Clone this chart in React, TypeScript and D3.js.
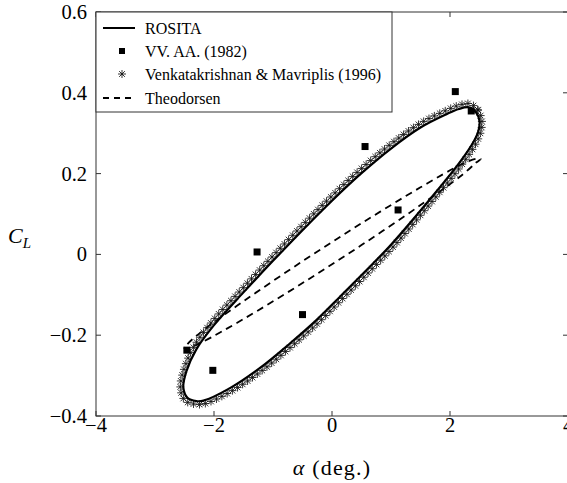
import React, { useEffect, useRef } from "react";
import * as d3 from "d3";

// ROSITA loop (alpha in deg, CL)
const rositaAlpha = [2.5, 2.44, 2.32, 2.15, 1.94, 1.5, 1.0, 0.5, 0.0, -0.5, -1.0, -1.5, -2.0, -2.3, -2.47, -2.52, -2.45, -2.3, -2.18, -1.73, -1.22, -0.71, -0.26, 0.14, 0.59, 1.0, 1.72, 2.17, 2.4, 2.48];
const rositaCL = [0.33, 0.352, 0.364, 0.36, 0.347, 0.314, 0.262, 0.201, 0.133, 0.06, -0.016, -0.094, -0.175, -0.235, -0.29, -0.33, -0.355, -0.363, -0.362, -0.331, -0.281, -0.22, -0.162, -0.104, -0.038, 0.024, 0.147, 0.229, 0.279, 0.305];

// Venkatakrishnan & Mavriplis (1996) loop
const vmAlpha = [2.54, 2.47, 2.33, 2.15, 1.93, 1.48, 0.98, 0.48, -0.02, -0.52, -1.02, -1.52, -2.03, -2.34, -2.51, -2.57, -2.49, -2.31, -2.17, -1.71, -1.2, -0.69, -0.24, 0.16, 0.61, 1.02, 1.74, 2.2, 2.44, 2.52];
const vmCL = [0.33, 0.358, 0.373, 0.369, 0.356, 0.323, 0.271, 0.21, 0.142, 0.069, -0.007, -0.085, -0.166, -0.228, -0.285, -0.33, -0.362, -0.371, -0.37, -0.339, -0.289, -0.228, -0.17, -0.112, -0.046, 0.016, 0.139, 0.222, 0.275, 0.303];

// VV. AA. (1982) experimental points
const expAlpha = [-2.46, -2.02, -1.27, -0.5, 0.56, 1.12, 2.09, 2.36];
const expCL = [-0.237, -0.287, 0.006, -0.149, 0.267, 0.11, 0.403, 0.355];

// Theodorsen loop
const theoAlpha = [-2.5, -2.45, -2.2, -1.5, -0.5, 0.5, 1.5, 2.2, 2.45, 2.52, 2.45, 2.2, 1.5, 0.5, -0.5, -1.5, -2.2, -2.45];
const theoCL = [-0.233, -0.222, -0.19, -0.116, -0.017, 0.077, 0.166, 0.223, 0.237, 0.236, 0.228, 0.196, 0.122, 0.023, -0.071, -0.16, -0.217, -0.233];

const xTicks = [-4, -2, 0, 2, 4];
const yTicks = [-0.4, -0.2, 0, 0.2, 0.4, 0.6];
const legendLabels = ["ROSITA", "VV. AA. (1982)", "Venkatakrishnan & Mavriplis (1996)", "Theodorsen"];

const W = 567;
const H = 483;
const FONT = "'Liberation Serif', 'Times New Roman', Times, serif";

export default function App() {
  const svgRef = useRef<SVGSVGElement>(null);

  useEffect(() => {
    const svg = d3.select(svgRef.current);
    svg.selectAll("*").remove();

    const x = d3.scaleLinear().domain([-4, 4]).range([96, 568]);
    const y = d3.scaleLinear().domain([-0.4, 0.6]).range([416, 12]);

    const pts = (a: number[], c: number[]) => a.map((v, i) => [v, c[i]] as [number, number]);
    const line = d3.line<[number, number]>()
      .x(d => x(d[0]))
      .y(d => y(d[1]))
      .curve(d3.curveCatmullRomClosed.alpha(0.5));

    // Theodorsen
    svg.append("path")
      .attr("d", line(pts(theoAlpha, theoCL)))
      .attr("fill", "none")
      .attr("stroke", "#000")
      .attr("stroke-width", 1.8)
      .attr("stroke-dasharray", "7,5");

    // asterisks along the V&M loop
    const vmPath = svg.append("path")
      .attr("d", line(pts(vmAlpha, vmCL)))
      .attr("fill", "none")
      .attr("stroke", "none");
    const node = vmPath.node() as SVGPathElement;
    const len = node.getTotalLength();
    const step = 6;
    const r = 4;
    const star = (g: any, cx: number, cy: number) => {
      const s = g.append("g").attr("transform", `translate(${cx},${cy})`)
        .attr("stroke", "#111").attr("stroke-width", 0.85);
      s.append("line").attr("x1", 0).attr("y1", -r).attr("x2", 0).attr("y2", r);
      s.append("line").attr("x1", -r).attr("y1", 0).attr("x2", r).attr("y2", 0);
      const k = r * 0.72;
      s.append("line").attr("x1", -k).attr("y1", -k).attr("x2", k).attr("y2", k);
      s.append("line").attr("x1", -k).attr("y1", k).attr("x2", k).attr("y2", -k);
    };
    const starG = svg.append("g");
    for (let l = 0; l < len; l += step) {
      const p = node.getPointAtLength(l);
      star(starG, p.x, p.y);
    }

    // ROSITA
    svg.append("path")
      .attr("d", line(pts(rositaAlpha, rositaCL)))
      .attr("fill", "none")
      .attr("stroke", "#000")
      .attr("stroke-width", 2.2);

    // experimental squares
    svg.append("g").selectAll("rect")
      .data(pts(expAlpha, expCL))
      .enter().append("rect")
      .attr("x", d => x(d[0]) - 3.5)
      .attr("y", d => y(d[1]) - 3.5)
      .attr("width", 7)
      .attr("height", 7)
      .attr("fill", "#000");

    // frame + ticks
    const axisColor = "#333";
    svg.append("rect")
      .attr("x", 96).attr("y", 12).attr("width", 472).attr("height", 404)
      .attr("fill", "none").attr("stroke", axisColor).attr("stroke-width", 1);
    xTicks.forEach(t => {
      svg.append("line").attr("x1", x(t)).attr("x2", x(t)).attr("y1", 416).attr("y2", 411)
        .attr("stroke", axisColor);
      svg.append("line").attr("x1", x(t)).attr("x2", x(t)).attr("y1", 12).attr("y2", 17)
        .attr("stroke", axisColor);
      svg.append("text").attr("x", x(t)).attr("y", 432)
        .attr("text-anchor", "middle").attr("font-family", FONT).attr("font-size", 20.5)
        .text(t < 0 ? `\u2212${Math.abs(t)}` : `${t}`);
    });
    yTicks.forEach(t => {
      svg.append("line").attr("x1", 96).attr("x2", 101).attr("y1", y(t)).attr("y2", y(t))
        .attr("stroke", axisColor);
      svg.append("line").attr("x1", 568).attr("x2", 563).attr("y1", y(t)).attr("y2", y(t))
        .attr("stroke", axisColor);
      const lab = t === 0 ? "0" : (t < 0 ? "\u2212" : "") + Math.abs(t).toFixed(1);
      svg.append("text").attr("x", 87).attr("y", y(t) + 7)
        .attr("text-anchor", "end").attr("font-family", FONT).attr("font-size", 20.5)
        .text(lab);
    });

    // axis titles
    const yl = svg.append("text").attr("x", 8).attr("y", 243)
      .attr("font-family", FONT).attr("font-size", 22).attr("font-style", "italic");
    yl.append("tspan").text("C");
    yl.append("tspan").attr("dy", 5).attr("font-size", 15).text("L");

    const xl = svg.append("text").attr("x", 332).attr("y", 475)
      .attr("text-anchor", "middle").attr("font-family", FONT).attr("font-size", 22)
      .attr("letter-spacing", 1.2);
    xl.append("tspan").attr("font-style", "italic").text("\u03b1");
    xl.append("tspan").text(" (deg.)");

    // legend
    const lg = svg.append("g");
    lg.append("rect").attr("x", 96).attr("y", 12).attr("width", 296).attr("height", 100)
      .attr("fill", "#fff").attr("stroke", axisColor).attr("stroke-width", 1);
    const rowY = [28, 51, 74, 98];
    legendLabels.forEach((lab, i) => {
      lg.append("text").attr("x", 145).attr("y", rowY[i] + 5.5)
        .attr("font-family", FONT).attr("font-size", 16).text(lab);
    });
    lg.append("line").attr("x1", 103).attr("x2", 135).attr("y1", rowY[0]).attr("y2", rowY[0])
      .attr("stroke", "#000").attr("stroke-width", 2);
    lg.append("rect").attr("x", 119).attr("y", rowY[1] - 3).attr("width", 6).attr("height", 6).attr("fill", "#000");
    star(lg, 122, rowY[2]);
    lg.append("line").attr("x1", 103).attr("x2", 135).attr("y1", rowY[3]).attr("y2", rowY[3])
      .attr("stroke", "#000").attr("stroke-width", 1.8).attr("stroke-dasharray", "6,5");
  }, []);

  return (
    <div style={{ position: "absolute", left: 0, top: 0 }}>
      <svg ref={svgRef} width={W} height={H} style={{ display: "block", background: "#fff" }} />
    </div>
  );
}
